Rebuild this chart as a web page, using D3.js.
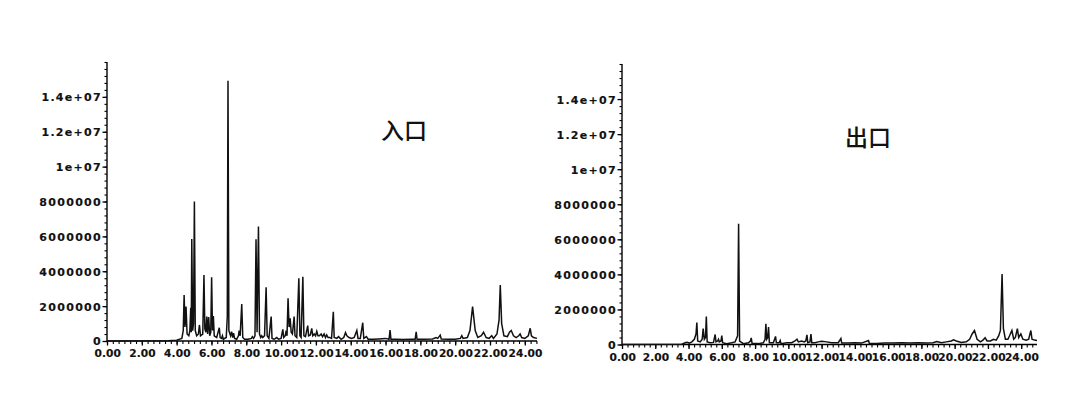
<!DOCTYPE html>
<html><head><meta charset="utf-8">
<script src="https://cdn.jsdelivr.net/npm/d3@7"></script>
<style>
html,body{margin:0;padding:0;background:#fff;}
svg{display:block;}
.title{font-family:"Noto Sans CJK SC","Noto Sans CJK JP",sans-serif;font-weight:500;font-size:23px;fill:#111;}
</style>
</head><body>
<svg id="chart" width="1090" height="393"></svg>
<script>
// ---- data (time in min, signal in units of 1e6 counts) ----
const titles = ["入口", "出口"];
const xTickValues = [0,2,4,6,8,10,12,14,16,18,20,22,24];
const xTickLabels = ["0.00","2.00","4.00","6.00","8.00","10.00","12.00","14.00","16.00","18.00","20.00","22.00","24.00"];
const yTickValues = [0,2,4,6,8,10,12,14];
const yTickLabels = ["0","2000000","4000000","6000000","8000000","1e+07","1.2e+07","1.4e+07"];

const inletTrace = [
[0,0],[3.5,0.02],[4.0,0.05],[4.3,0.15],
[4.38,0.6],[4.43,2.64],[4.48,0.8],[4.54,1.97],[4.6,0.4],
[4.7,0.3],[4.76,0.6],[4.81,1.9],[4.84,0.5],[4.87,5.85],[4.92,0.6],[4.97,1.0],[5.02,8.0],[5.07,0.6],[5.15,0.3],
[5.25,0.4],[5.31,0.92],[5.37,0.3],[5.5,0.4],[5.57,3.79],[5.62,0.7],[5.68,0.5],[5.73,1.4],[5.78,0.4],[5.84,1.38],[5.9,0.3],[5.96,0.5],[6.01,3.65],[6.06,0.6],[6.11,1.43],[6.16,0.3],
[6.3,0.2],[6.45,0.76],[6.5,0.2],[6.58,0.15],[6.63,0.3],[6.68,0.1],[6.85,0.2],[6.91,1.4],[6.95,14.93],[7.0,0.6],[7.1,0.3],[7.16,0.53],[7.22,0.2],[7.27,0.45],[7.33,0.15],
[7.45,0.1],[7.55,0.3],[7.59,0.6],[7.65,0.3],[7.74,2.12],[7.8,0.2],[7.9,0.1],[8.1,0.1],[8.3,0.15],[8.35,0.25],[8.42,0.15],[8.5,0.3],[8.56,5.83],[8.62,0.5],[8.7,6.56],[8.76,0.4],[8.83,0.2],[8.89,0.3],[8.95,0.2],[9.05,0.3],[9.14,3.08],[9.2,0.3],[9.3,0.15],[9.43,1.4],[9.48,0.15],
[9.6,0.1],[9.75,0.2],[9.85,0.1],[10.0,0.15],[10.1,0.67],[10.15,0.2],[10.24,0.3],[10.29,0.6],[10.34,0.3],[10.4,2.45],[10.46,0.8],[10.52,1.3],[10.58,0.5],[10.65,0.4],[10.75,1.4],[10.8,0.3],[10.9,0.2],[11.02,3.6],[11.08,0.3],[11.15,0.2],[11.25,3.69],[11.31,0.3],[11.4,0.25],[11.53,0.88],[11.58,0.3],[11.68,0.35],[11.76,0.72],[11.82,0.3],[11.9,0.4],[11.98,0.3],[12.05,0.55],[12.12,0.3],[12.2,0.3],[12.3,0.4],[12.38,0.25],[12.47,0.4],[12.55,0.2],[12.62,0.35],[12.7,0.2],[12.8,0.2],[12.9,0.15],[13.0,1.68],[13.05,0.2],[13.2,0.15],[13.3,0.25],[13.45,0.1],[13.6,0.2],[13.7,0.48],[13.78,0.3],[13.9,0.2],[14.05,0.15],[14.2,0.2],[14.35,0.6],[14.42,0.15],[14.55,0.15],[14.69,1.05],[14.75,0.15],[14.9,0.25],[15.0,0.1],[15.3,0.1],[15.6,0.12],[16.0,0.15],[16.2,0.1],[16.26,0.63],[16.31,0.1],[16.6,0.1],[17.0,0.08],[17.5,0.1],[17.7,0.1],[17.76,0.53],[17.81,0.1],[18.2,0.1],[18.7,0.12],[18.9,0.2],[19.0,0.15],[19.14,0.34],[19.2,0.12],[19.6,0.1],[20.0,0.1],[20.3,0.15],[20.38,0.3],[20.45,0.15],[20.7,0.2],[20.85,0.6],[21.0,1.97],[21.15,0.6],[21.3,0.2],[21.5,0.3],[21.63,0.5],[21.78,0.2],[21.95,0.15],[22.1,0.3],[22.2,0.15],[22.4,0.4],[22.52,1.2],[22.59,3.21],[22.67,1.0],[22.8,0.3],[23.0,0.25],[23.12,0.5],[23.22,0.6],[23.35,0.3],[23.5,0.2],[23.65,0.3],[23.73,0.4],[23.82,0.2],[24.0,0.15],[24.2,0.3],[24.31,0.73],[24.38,0.3],[24.5,0.2],[24.7,0.15]
];

const outletTrace = [
[0,0],[3.6,0.02],[3.8,0.1],[3.9,0.12],[4.05,0.08],[4.2,0.15],[4.35,0.3],[4.45,0.6],[4.5,1.25],[4.55,0.2],[4.7,0.15],[4.82,0.3],[4.88,0.91],[4.95,0.3],[5.02,0.4],[5.07,1.6],[5.12,0.15],[5.3,0.1],[5.5,0.12],[5.6,0.57],[5.65,0.15],[5.75,0.2],[5.8,0.3],[5.85,0.15],[5.95,0.2],[6.0,0.51],[6.05,0.1],[6.3,0.05],[6.6,0.1],[6.8,0.15],[6.95,0.5],[7.01,6.89],[7.07,0.2],[7.3,0.05],[7.6,0.1],[7.72,0.2],[7.77,0.38],[7.82,0.05],[8.2,0.05],[8.5,0.1],[8.6,0.3],[8.65,1.18],[8.7,0.3],[8.76,0.4],[8.81,1.0],[8.86,0.1],[9.1,0.1],[9.23,0.46],[9.28,0.1],[9.45,0.1],[9.51,0.23],[9.56,0.05],[9.9,0.1],[10.2,0.1],[10.4,0.2],[10.52,0.3],[10.6,0.15],[10.8,0.2],[10.95,0.15],[11.05,0.2],[11.12,0.55],[11.17,0.1],[11.3,0.15],[11.36,0.6],[11.41,0.1],[11.6,0.1],[11.8,0.15],[12.0,0.18],[12.3,0.15],[12.6,0.1],[13.0,0.1],[13.16,0.34],[13.21,0.08],[13.6,0.08],[14.0,0.1],[14.4,0.08],[14.82,0.23],[14.87,0.06],[15.3,0.06],[15.8,0.08],[16.3,0.08],[16.8,0.1],[17.3,0.08],[17.8,0.1],[18.3,0.08],[18.7,0.1],[18.93,0.17],[19.2,0.1],[19.5,0.15],[19.8,0.2],[19.93,0.27],[20.1,0.2],[20.4,0.12],[20.7,0.15],[20.9,0.3],[21.05,0.6],[21.19,0.8],[21.35,0.3],[21.55,0.15],[21.7,0.25],[21.83,0.38],[21.95,0.2],[22.15,0.2],[22.33,0.3],[22.5,0.25],[22.65,0.5],[22.75,0.8],[22.85,4.02],[22.93,0.9],[23.05,0.3],[23.2,0.3],[23.3,0.5],[23.44,0.8],[23.55,0.3],[23.65,0.4],[23.77,0.91],[23.85,0.4],[23.98,0.6],[24.1,0.3],[24.3,0.25],[24.45,0.3],[24.58,0.8],[24.65,0.3],[24.8,0.25],[24.95,0.23]
];

// ---- layout ----
const panels = [
  {trace: inletTrace, title: titles[0], xDomain:[0,24.7], xRange:[107,537], yRange:[341,62], titleX:381, titleY:139, labelY:15.7},
  {trace: outletTrace, title: titles[1], xDomain:[0,24.95], xRange:[622,1037], yRange:[344.5,64], titleX:845, titleY:146, labelY:16.3}
];

const svg = d3.select("#chart");
svg.append("rect").attr("width",1090).attr("height",393).attr("fill","#fff");

function styleLabel(sel, ls, size){
  sel.style("font-family","'DejaVu Sans',Verdana,sans-serif")
     .style("font-weight","bold").style("font-size",size)
     .style("fill","#111").style("stroke","#111").style("stroke-width","0.15px")
     .style("letter-spacing", ls);
}

panels.forEach(p => {
  const x = d3.scaleLinear().domain(p.xDomain).range(p.xRange);
  const y = d3.scaleLinear().domain([0,16]).range(p.yRange);
  const g = svg.append("g");

  // x axis
  const xAxis = d3.axisBottom(x)
    .tickValues(d3.range(0, p.xDomain[1]+0.001, 1/3))
    .tickSize(3).tickFormat("");
  const gx = g.append("g").attr("transform",`translate(0,${p.yRange[0]})`).call(xAxis);
  gx.select(".domain").attr("d",`M${p.xRange[0]},0H${p.xRange[1]}`).attr("stroke","#000").attr("stroke-width",1.4);
  gx.selectAll(".tick line").attr("stroke","#000").attr("stroke-width",1.1);
  const gxMaj = g.append("g").attr("transform",`translate(0,${p.yRange[0]})`)
    .call(d3.axisBottom(x).tickValues(xTickValues).tickSize(4.5)
      .tickFormat((d,i)=>xTickLabels[i]));
  gxMaj.select(".domain").remove();
  gxMaj.selectAll(".tick line").attr("stroke","#000").attr("stroke-width",1.3);
  const xt = gxMaj.selectAll(".tick text").attr("y",p.labelY).attr("dy",0).attr("dx","0.2px");
  styleLabel(xt, "0.1px", "10.6px");

  // y axis
  const yAxisMinor = d3.axisLeft(y).tickValues(d3.range(0,16.01,0.4)).tickSize(2.5).tickFormat("");
  const gy = g.append("g").attr("transform",`translate(${p.xRange[0]},0)`).call(yAxisMinor);
  gy.select(".domain").attr("d",`M0,${p.yRange[0]}V${p.yRange[1]}`).attr("stroke","#000").attr("stroke-width",1.4);
  gy.selectAll(".tick line").attr("stroke","#000").attr("stroke-width",1.1);
  const gyMaj = g.append("g").attr("transform",`translate(${p.xRange[0]},0)`)
    .call(d3.axisLeft(y).tickValues(yTickValues).tickSize(4.5).tickFormat((d,i)=>yTickLabels[i]));
  gyMaj.select(".domain").remove();
  gyMaj.selectAll(".tick line").attr("stroke","#000").attr("stroke-width",1.3);
  const yt = gyMaj.selectAll(".tick text").attr("x",-5).attr("dy","0.36em");
  styleLabel(yt, "1.3px", "11px");

  // trace
  const line = d3.line().x(d=>x(d[0])).y(d=>y(d[1]));
  g.append("path").datum(p.trace).attr("d",line)
    .attr("fill","none").attr("stroke","#111").attr("stroke-width",1.5).attr("stroke-linejoin","miter");

  // title
  g.append("text").attr("class","title").attr("x",p.titleX).attr("y",p.titleY).text(p.title);
});
</script>
</body></html>
